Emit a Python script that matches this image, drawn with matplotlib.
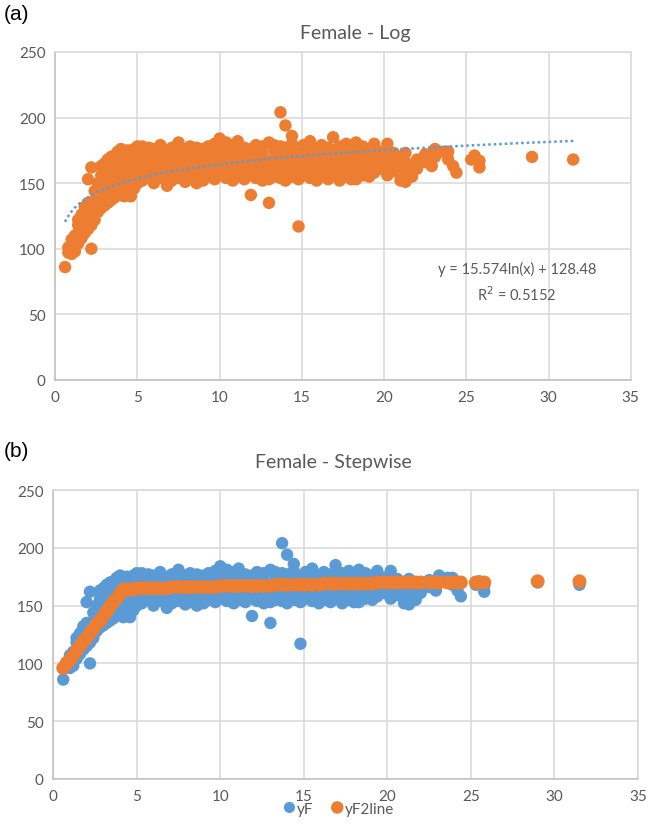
import matplotlib.pyplot as plt
import numpy as np

# colours (Excel default theme)
ORANGE = "#ED7D31"
BLUE = "#5B9BD5"
GREY_TXT = "#595959"
GRID = "#D9D9D9"

# scatter data yF
x_f = (
    [0.6] + [0.8] * 2 + [1.0] * 3 + [1.2] * 3 + [1.4] * 4 + [1.6] * 4 + [1.8] * 4
    + [2.0] * 5 + [2.2] * 5 + [2.4] * 4 + [2.6] * 4 + [2.8] * 5 + [3.0] * 5
    + [3.2] * 5 + [3.4] * 5 + [3.6] * 5 + [3.8] * 5 + [4.0] * 5 + [4.2] * 5
    + [4.4] * 5 + [4.6] * 5 + [4.8] * 5 + [5.0] * 5
    + [5.3] * 5 + [5.7] * 5 + [6.0] * 5 + [6.4] * 5 + [6.8] * 5 + [7.1] * 5
    + [7.5] * 5 + [7.9] * 5 + [8.2] * 5 + [8.6] * 5 + [9.0] * 5 + [9.3] * 5
    + [9.7] * 5 + [10.0] * 5 + [10.4] * 5 + [10.8] * 5 + [11.1] * 5 + [11.5] * 5
    + [11.9] * 5 + [12.2] * 5 + [12.6] * 5 + [13.0] * 5 + [13.3] * 5 + [13.7] * 6
    + [14.0] * 6 + [14.4] * 6 + [14.8] * 5 + [15.1] * 5 + [15.5] * 5 + [15.9] * 5
    + [16.2] * 5 + [16.6] * 5 + [16.9] * 5 + [17.3] * 5 + [17.7] * 5 + [18.0] * 5
    + [18.3] * 5 + [18.7] * 5 + [19.1] * 5 + [19.4] * 4 + [19.8] * 3 + [20.2] * 4
    + [20.6] * 3 + [21.0] * 3 + [21.3] * 4 + [21.7] * 2 + [22.0] * 2 + [22.5] * 2
    + [22.9] + [23.1] * 2 + [23.6] + [23.9] * 2 + [24.2] + [24.4] + [25.3]
    + [25.5] + [25.8] * 2 + [29.0] + [31.5]
)
y_f = [
    86, 97, 101, 96, 103, 107, 98, 105, 110,
    104, 112, 118, 122, 108, 115, 121, 126, 112, 120, 127, 132,
    115, 122, 129, 135, 153, 100, 118, 126, 133, 162,
    122, 130, 137, 144, 128, 135, 142, 150,
    131, 139, 147, 156, 163, 133, 141, 150, 158, 165,
    135, 144, 153, 161, 168, 137, 146, 155, 163, 170,
    139, 148, 157, 165, 171, 141, 150, 159, 167, 174,
    143, 152, 160, 168, 176, 140, 150, 158, 166, 174,
    142, 151, 159, 167, 175, 140, 149, 157, 165, 173,
    146, 153, 160, 168, 176, 150, 157, 164, 171, 178,
    152, 159, 166, 172, 178, 155, 161, 167, 173, 177,
    150, 157, 164, 170, 176, 154, 160, 167, 173, 179,
    148, 156, 163, 170, 175, 152, 159, 165, 171, 177,
    154, 160, 166, 172, 181, 151, 158, 165, 171, 176,
    153, 160, 166, 173, 178, 150, 157, 164, 170, 177,
    152, 159, 166, 172, 176, 155, 161, 167, 173, 178,
    153, 160, 167, 174, 180, 156, 162, 168, 175, 184,
    154, 161, 167, 174, 181, 152, 159, 166, 172, 179,
    155, 161, 168, 175, 182, 153, 160, 166, 172, 177,
    141, 156, 162, 169, 176, 154, 161, 167, 174, 179,
    152, 158, 165, 172, 178, 135, 153, 160, 167, 181,
    155, 162, 168, 175, 179, 204, 154, 161, 167, 174, 178,
    194, 152, 158, 165, 172, 177, 186, 155, 161, 168, 175, 180,
    117, 153, 160, 166, 173, 156, 162, 168, 174, 179,
    154, 161, 167, 174, 182, 152, 159, 166, 172, 176,
    155, 161, 168, 174, 179, 153, 160, 166, 173, 177,
    156, 162, 169, 175, 185, 152, 158, 165, 172, 178,
    155, 161, 168, 174, 180, 153, 160, 167, 173, 177,
    153, 162, 169, 175, 181, 156, 162, 168, 174, 178,
    155, 161, 167, 173, 176, 158, 165, 172, 180,
    161, 167, 174, 156, 164, 171, 180,
    159, 166, 173, 152, 163, 170, 151, 158, 166, 173,
    155, 162, 161, 168, 166, 172,
    163, 170, 176, 174, 168, 174, 163, 158, 168,
    171, 162, 167, 170, 168,
]

# stepwise fit (yF2line), one value per x column
x_line = [
    0.6, 0.8, 1.0, 1.2, 1.4, 1.6, 1.8, 2.0, 2.2, 2.4, 2.6, 2.8, 3.0, 3.2, 3.4,
    3.6, 3.8, 4.0, 4.2, 4.4, 4.6, 4.8, 5.0,
    5.3, 5.7, 6.0, 6.4, 6.8, 7.1, 7.5, 7.9, 8.2, 8.6, 9.0, 9.3, 9.7, 10.0,
    10.4, 10.8, 11.1, 11.5, 11.9, 12.2, 12.6, 13.0, 13.3, 13.7, 14.0, 14.4,
    14.8, 15.1, 15.5, 15.9, 16.2, 16.6, 16.9, 17.3, 17.7, 18.0, 18.3, 18.7,
    19.1, 19.4, 19.8, 20.2, 20.6, 21.0, 21.3, 21.7, 22.0, 22.5, 22.9, 23.1,
    23.6, 23.9, 24.2, 24.4, 25.3, 25.5, 25.8, 29.0, 31.5,
]
y_line = [
    96, 100, 103, 107, 111, 115, 119, 122, 126, 130, 134, 137, 141, 145, 149,
    153, 156, 160, 164, 164, 164, 164, 165,
    165, 165, 165, 165, 165, 166, 166, 166, 166, 166, 166, 166, 166, 167,
    167, 167, 167, 167, 167, 167, 167, 167, 168, 168, 168, 168,
    168, 168, 168, 168, 169, 169, 169, 169, 169, 169, 169, 169,
    169, 170, 170, 170, 170, 170, 170, 170, 170, 170, 170, 170,
    170, 170, 170, 170, 170, 170, 170, 171, 171,
]

# log trendline coefficients as printed on the chart
TREND_A = 15.574
TREND_B = 128.48
MS = 80  # marker area


def style_axes(ax):
    ax.set_xlim(0, 35)
    ax.set_ylim(0, 250)
    ax.set_xticks(range(0, 36, 5))
    ax.set_yticks(range(0, 251, 50))
    ax.grid(True, color=GRID, linewidth=1.1)
    ax.set_axisbelow(True)
    for s in ax.spines.values():
        s.set_color(GRID)
        s.set_linewidth(1.1)
    ax.spines["bottom"].set_color("#BFBFBF")
    ax.spines["left"].set_color("#BFBFBF")
    ax.tick_params(length=0, pad=7, labelsize=11, labelcolor=GREY_TXT)


plt.rcParams["font.family"] = ["Lato", "DejaVu Sans"]
fig = plt.figure(figsize=(6.57, 8.28), dpi=100)

# (a) Female - Log
ax1 = fig.add_axes([0.084, 0.540, 0.876, 0.396])
style_axes(ax1)
ax1.scatter(x_f, y_f, s=MS, color=ORANGE, edgecolors="none", zorder=2)
xt = np.linspace(min(x_f), max(x_f), 200)
ax1.plot(xt, TREND_A * np.log(xt) + TREND_B, color=BLUE, linestyle=(0, (1, 1.2)),
         linewidth=1.8, zorder=3)
fig.text(0.787, 0.658, "y = 15.574ln(x) + 128.48\nR$^2$ = 0.5152",
         ha="center", va="center", fontsize=10.5, color=GREY_TXT,
         linespacing=1.5)
fig.text(0.54, 0.960, "Female - Log", ha="center", va="center",
         fontsize=14, color=GREY_TXT)
fig.text(0.005, 0.982, "(a)", ha="left", va="center", fontsize=15,
         family=["Liberation Sans", "DejaVu Sans"])

# (b) Female - Stepwise
ax2 = fig.add_axes([0.081, 0.058, 0.890, 0.349])
style_axes(ax2)
ax2.scatter(x_f, y_f, s=MS, color=BLUE, edgecolors="none", zorder=2, label="yF")
ax2.scatter(x_line, y_line, s=100, color=ORANGE, edgecolors="none", zorder=3,
            label="yF2line")
fig.text(0.507, 0.441, "Female - Stepwise", ha="center", va="center",
         fontsize=14, color=GREY_TXT)
fig.text(0.005, 0.455, "(b)", ha="left", va="center", fontsize=15,
         family=["Liberation Sans", "DejaVu Sans"])
fig.legend(loc="center", bbox_to_anchor=(0.515, 0.022), ncol=2, frameon=False,
           fontsize=11, labelcolor=GREY_TXT, handletextpad=0.05,
           handlelength=0.9, columnspacing=1.1, scatteryoffsets=[0.5],
           markerscale=0.9)

fig.savefig("out.png", dpi=100)
